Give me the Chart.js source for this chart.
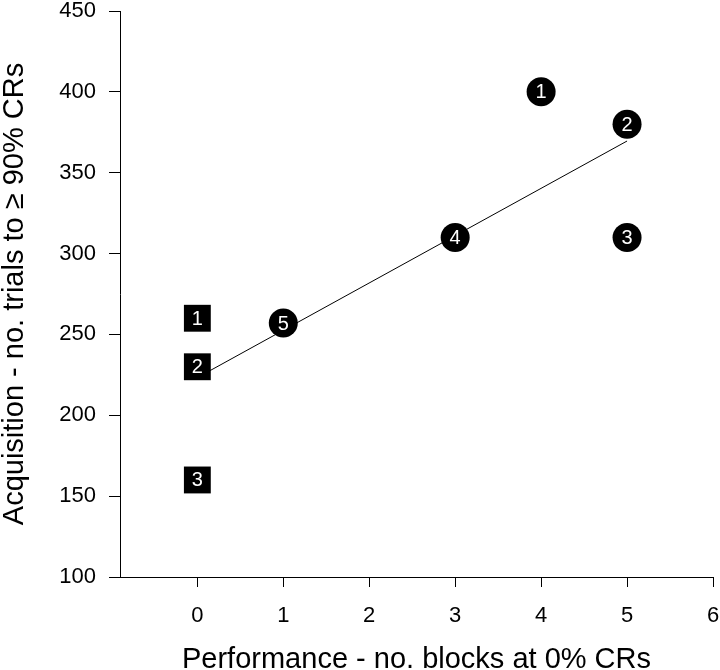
<!DOCTYPE html>
<html>
<head>
<meta charset="utf-8">
<script src="https://cdn.jsdelivr.net/npm/chart.js@4"></script>
<style>
  html, body { margin: 0; padding: 0; background: #fff; }
  #wrap { width: 720px; height: 670px; }
</style>
</head>
<body>
<div id="wrap"><canvas id="c" width="720" height="670"></canvas></div>
<script>
// Squares (group A)
const squareX = [0, 0, 0];
const squareY = [260, 230, 160];
const squareLabels = ['1', '2', '3'];
// Circles (group B)
const circleX = [4, 5, 5, 3, 1];
const circleY = [400, 380, 310, 310, 257];
const circleLabels = ['1', '2', '3', '4', '5'];
// Regression line end points
const fitX = [0, 5];
const fitY = [223.3, 369.6];
// Axis ticks
const xTicks = [0, 1, 2, 3, 4, 5, 6];
const yTicks = [100, 150, 200, 250, 300, 350, 400, 450];

const FONT = '"Liberation Sans", Arial, Helvetica, sans-serif';

const toPts = (xs, ys) => xs.map((x, i) => ({ x: x, y: ys[i] }));

const markerLabels = {
  id: 'markerLabels',
  afterDatasetsDraw(chart) {
    const ctx = chart.ctx;
    ctx.save();
    ctx.fillStyle = '#fff';
    ctx.font = '20px ' + FONT;
    ctx.textAlign = 'center';
    ctx.textBaseline = 'middle';
    chart.data.datasets.forEach((ds, di) => {
      if (!ds.markLabels) return;
      const meta = chart.getDatasetMeta(di);
      meta.data.forEach((el, i) => {
        ctx.fillText(ds.markLabels[i], el.x, el.y + 1);
      });
    });
    ctx.restore();
  }
};

const noPad = (s) => { s.paddingTop = 0; s.paddingBottom = 0; s.paddingLeft = 0; s.paddingRight = 0; };

new Chart(document.getElementById('c'), {
  type: 'scatter',
  data: {
    datasets: [
      {
        label: 'squares',
        data: toPts(squareX, squareY),
        markLabels: squareLabels,
        pointStyle: 'rect',
        pointRadius: 19,
        pointHoverRadius: 19,
        backgroundColor: '#000',
        borderColor: '#000',
        borderWidth: 0,
        order: 1
      },
      {
        label: 'circles',
        data: toPts(circleX, circleY),
        markLabels: circleLabels,
        pointStyle: 'circle',
        pointRadius: 14.5,
        pointHoverRadius: 14.5,
        backgroundColor: '#000',
        borderColor: '#000',
        borderWidth: 0,
        order: 1
      },
      {
        type: 'line',
        label: 'fit',
        data: toPts(fitX, fitY),
        borderColor: '#000',
        borderWidth: 1,
        pointRadius: 0,
        fill: false,
        order: 2
      }
    ]
  },
  options: {
    responsive: false,
    animation: false,
    events: [],
    layout: { autoPadding: false, padding: { left: 0, top: 11, right: 7, bottom: 0 } },
    plugins: { legend: { display: false }, tooltip: { enabled: false } },
    scales: {
      x: {
        type: 'linear',
        min: -0.9,
        max: 6,
        afterBuildTicks: (s) => { s.ticks = xTicks.map(v => ({ value: v })); },
        afterFit: (s) => { s.height = 93; noPad(s); },
        grid: { drawOnChartArea: false, drawTicks: true, tickLength: 10, color: '#000', tickColor: '#000', tickWidth: 1 },
        border: { display: true, color: '#000', width: 1 },
        ticks: { color: '#000', font: { family: FONT, size: 22, lineHeight: 1 }, padding: 18, maxRotation: 0, autoSkip: false },
        title: { display: true, text: 'Performance - no. blocks at 0% CRs', color: '#000', font: { family: FONT, size: 29, lineHeight: 0.7 }, padding: 0 }
      },
      y: {
        type: 'linear',
        min: 100,
        max: 450,
        afterBuildTicks: (s) => { s.ticks = yTicks.map(v => ({ value: v })); },
        afterFit: (s) => { s.width = 120; noPad(s); },
        grid: { drawOnChartArea: false, drawTicks: true, tickLength: 11, color: '#000', tickColor: '#000', tickWidth: 1 },
        border: { display: true, color: '#000', width: 1 },
        ticks: { color: '#000', font: { family: FONT, size: 22, lineHeight: 1 }, padding: 13, autoSkip: false },
        title: { display: true, text: 'Acquisition - no. trials to \u2265 90% CRs', color: '#000', font: { family: FONT, size: 29, lineHeight: 1 }, padding: 0 }
      }
    }
  },
  plugins: [markerLabels]
});
</script>
</body>
</html>
